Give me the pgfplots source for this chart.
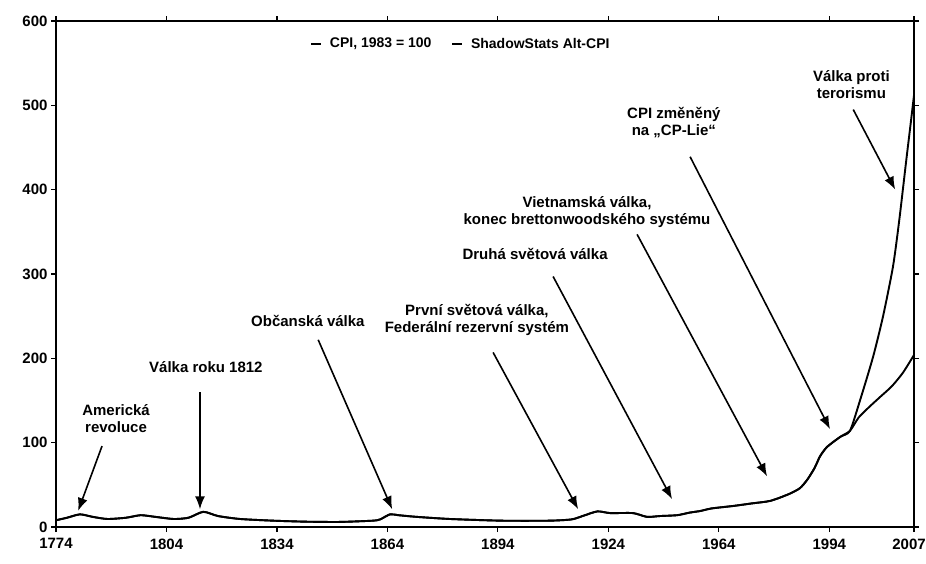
\documentclass[border=0pt]{standalone}
\usepackage{pgfplots}
\pgfplotsset{compat=1.18}
\usepackage{fontspec}
\setmainfont{Liberation Sans}
\usetikzlibrary{arrows.meta}

\begin{document}
\begin{tikzpicture}[
  ann/.style={font=\bfseries\fontsize{15}{17}\selectfont, align=center, inner sep=0pt},
  arr/.style={line width=1.6pt, -{Latex[length=13pt,width=10pt]}},
]
\useasboundingbox (-56pt,-36pt) rectangle (870pt,527pt);
\begin{axis}[
    scale only axis,
    width=858pt, height=506pt,
    xmin=1774, xmax=2007, ymin=0, ymax=600,
    xtick={1774,1804,1834,1864,1894,1924,1954,1984,2007},
    xticklabels={1774,1804,1834,1864,1894,1924,1964,1994,\hspace*{-10pt}2007},
    ytick={0,100,200,300,400,500,600},
    yticklabels={0,100,200,300,400,500,600},
    tick align=outside,
    major tick length=5pt,
    tick style={line width=1.2pt, black},
    axis line style={line width=1.6pt},
    ticklabel style={font=\bfseries\fontsize{15}{17}\selectfont},
    xticklabel style={yshift=-3pt},
    /pgf/number format/assume math mode=true,
    legend style={at={(0.472,0.955)}, anchor=center, draw=none, fill=none,
      font=\bfseries\fontsize{14}{16}\selectfont, legend columns=2,
      /tikz/every odd column/.append style={column sep=6pt},
      /tikz/every even column/.append style={column sep=18pt}},
    legend image code/.code={\draw[line width=1.5pt] (0pt,0pt) -- (10pt,0pt);},
    clip=false,
]

% CPI, 1983 = 100
\addplot[black, line width=1.9pt, smooth, tension=0.4] coordinates {
 (1774,8) (1777,11) (1780.5,15) (1784,12) (1788,9.5) (1793,11) (1797,14)
 (1801,12) (1806,9.5) (1810,11) (1814,18) (1818,13) (1824,9.5) (1833,7.5)
 (1842,6.3) (1851,6) (1860,7.5) (1862,9) (1864.7,15) (1867,14) (1872,12)
 (1881,9.5) (1895,7.5) (1908,7.5) (1914,9) (1917,13) (1921,18.5) (1924.5,16.5)
 (1930.7,16.5) (1934.5,12) (1938,13) (1942.7,14) (1946,17) (1949,19) (1952,22)
 (1958,25) (1963,28) (1968,31) (1973,39) (1976,46) (1978,56) (1980,70)
 (1981.5,84) (1983.4,95) (1987,107) (1989.6,114)
 (1992,130) (1995,143) (1998,155) (2001,167) (2004,183) (2007,204)
};
\addlegendentry{CPI, 1983 = 100}

% ShadowStats Alt-CPI
\addplot[black, line width=1.9pt, smooth, tension=0.4] coordinates {
 (1774,8) (1777,11) (1780.5,15) (1784,12) (1788,9.5) (1793,11) (1797,14)
 (1801,12) (1806,9.5) (1810,11) (1814,18) (1818,13) (1824,9.5) (1833,7.5)
 (1842,6.3) (1851,6) (1860,7.5) (1862,9) (1864.7,15) (1867,14) (1872,12)
 (1881,9.5) (1895,7.5) (1908,7.5) (1914,9) (1917,13) (1921,18.5) (1924.5,16.5)
 (1930.7,16.5) (1934.5,12) (1938,13) (1942.7,14) (1946,17) (1949,19) (1952,22)
 (1958,25) (1963,28) (1968,31) (1973,39) (1976,46) (1978,56) (1980,70)
 (1981.5,84) (1983.4,95) (1987,107) (1989.6,114)
 (1992.4,151) (1995.9,202) (1998.6,250) (2001.3,309) (2003,364) (2004.9,435)
 (2006,475) (2007,512)
};
\addlegendentry{ShadowStats Alt-CPI}

% annotations
\node[ann] at (axis cs:1790.3,129) {Americká\\revoluce};
\draw[arr] (axis cs:1786.5,96) -- (axis cs:1780,19);

\node[ann] at (axis cs:1814.7,190) {Válka roku 1812};
\draw[arr] (axis cs:1813.1,160) -- (axis cs:1813.1,21);

\node[ann] at (axis cs:1842.4,244) {Občanská válka};
\draw[arr] (axis cs:1845.2,222) -- (axis cs:1865.3,21);

\node[ann] at (axis cs:1888.3,246) {První světová válka,\\Federální rezervní systém};
\draw[arr] (axis cs:1892.7,207) -- (axis cs:1915.8,21);

\node[ann] at (axis cs:1904.1,324) {Druhá světová válka};
\draw[arr] (axis cs:1909,297) -- (axis cs:1941.3,33);

\node[ann] at (axis cs:1918.2,374) {Vietnamská válka,\\konec brettonwoodského systému};
\draw[arr] (axis cs:1931.8,347) -- (axis cs:1967.1,60);

\node[ann] at (axis cs:1941.8,480) {CPI změněný\\na „CP-Lie“};
\draw[arr] (axis cs:1946.2,439) -- (axis cs:1984.2,116);

\node[ann] at (axis cs:1990,525) {Válka proti\\terorismu};
\draw[arr] (axis cs:1990.5,495) -- (axis cs:2001.9,400);

\end{axis}
\end{tikzpicture}
\end{document}
